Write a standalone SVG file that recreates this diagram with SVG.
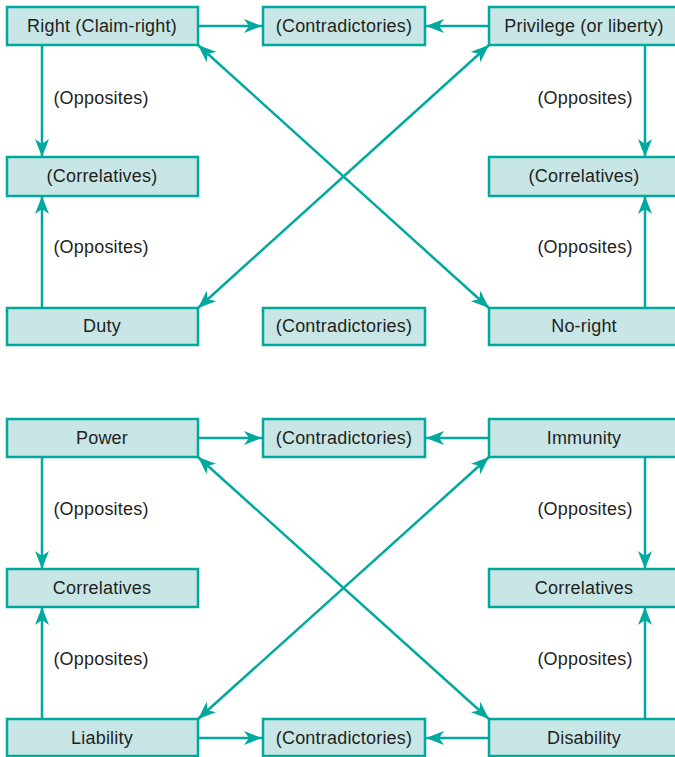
<svg xmlns="http://www.w3.org/2000/svg" width="675" height="757" viewBox="0 0 675 757">
<defs>
<style>
.box{fill:#c8e6e6;stroke:#00a99d;stroke-width:2.5}
.t{font-family:"Liberation Sans",Arial,sans-serif;font-size:18px;letter-spacing:0.2px;fill:#231f20;text-anchor:middle;dominant-baseline:central}
.c{stroke:#00a99d;stroke-width:2.5;fill:none}
.e{marker-end:url(#ah)}
.b{marker-start:url(#ah);marker-end:url(#ah)}
</style>
<marker id="ah" markerUnits="userSpaceOnUse" markerWidth="18" markerHeight="14" refX="18" refY="7" orient="auto-start-reverse" viewBox="0 0 18 14">
<path d="M0,0 L18,7 L0,14 L5,7 Z" fill="#00a99d"/>
</marker>
</defs>
<g id="connectors">
<line class="c e" x1="198" y1="26" x2="262" y2="26"/>
<line class="c e" x1="489" y1="26" x2="426" y2="26"/>
<line class="c e" x1="42" y1="45" x2="42" y2="157"/>
<line class="c e" x1="42" y1="308" x2="42" y2="196"/>
<line class="c e" x1="645" y1="45" x2="645" y2="157"/>
<line class="c e" x1="645" y1="308" x2="645" y2="196"/>
<line class="c b" x1="198" y1="45" x2="489" y2="308"/>
<line class="c b" x1="489" y1="45" x2="198" y2="308"/>
<line class="c e" x1="198" y1="438" x2="262" y2="438"/>
<line class="c e" x1="489" y1="438" x2="426" y2="438"/>
<line class="c e" x1="198" y1="738" x2="262" y2="738"/>
<line class="c e" x1="489" y1="738" x2="426" y2="738"/>
<line class="c e" x1="42" y1="457" x2="42" y2="569"/>
<line class="c e" x1="42" y1="719" x2="42" y2="607"/>
<line class="c e" x1="645" y1="457" x2="645" y2="569"/>
<line class="c e" x1="645" y1="719" x2="645" y2="607"/>
<line class="c b" x1="198" y1="457" x2="489" y2="719"/>
<line class="c b" x1="489" y1="457" x2="198" y2="719"/>
</g>
<g id="labels">
<text class="t" x="101" y="98">(Opposites)</text>
<text class="t" x="101" y="247">(Opposites)</text>
<text class="t" x="585" y="98">(Opposites)</text>
<text class="t" x="585" y="247">(Opposites)</text>
<text class="t" x="101" y="509">(Opposites)</text>
<text class="t" x="101" y="659">(Opposites)</text>
<text class="t" x="585" y="509">(Opposites)</text>
<text class="t" x="585" y="659">(Opposites)</text>
</g>
<g id="right"><rect class="box" x="7" y="7" width="191" height="38"/><text class="t" x="102" y="26">Right (Claim-right)</text></g>
<g id="contra1"><rect class="box" x="263" y="7" width="162" height="38"/><text class="t" x="344" y="26">(Contradictories)</text></g>
<g id="privilege"><rect class="box" x="489" y="7" width="191" height="38"/><text class="t" x="584" y="26">Privilege (or liberty)</text></g>
<g id="corr1"><rect class="box" x="7" y="157" width="191" height="39"/><text class="t" x="102" y="176">(Correlatives)</text></g>
<g id="corr2"><rect class="box" x="489" y="157" width="191" height="39"/><text class="t" x="584" y="176">(Correlatives)</text></g>
<g id="duty"><rect class="box" x="7" y="308" width="191" height="37"/><text class="t" x="102" y="326">Duty</text></g>
<g id="contra2"><rect class="box" x="263" y="308" width="162" height="37"/><text class="t" x="344" y="326">(Contradictories)</text></g>
<g id="noright"><rect class="box" x="489" y="308" width="191" height="37"/><text class="t" x="584" y="326">No-right</text></g>
<g id="power"><rect class="box" x="7" y="419" width="191" height="38"/><text class="t" x="102" y="438">Power</text></g>
<g id="contra3"><rect class="box" x="263" y="419" width="162" height="38"/><text class="t" x="344" y="438">(Contradictories)</text></g>
<g id="immunity"><rect class="box" x="489" y="419" width="191" height="38"/><text class="t" x="584" y="438">Immunity</text></g>
<g id="corr3"><rect class="box" x="7" y="569" width="191" height="38"/><text class="t" x="102" y="588">Correlatives</text></g>
<g id="corr4"><rect class="box" x="489" y="569" width="191" height="38"/><text class="t" x="584" y="588">Correlatives</text></g>
<g id="liability"><rect class="box" x="7" y="719" width="191" height="37"/><text class="t" x="102" y="738">Liability</text></g>
<g id="contra4"><rect class="box" x="263" y="719" width="162" height="37"/><text class="t" x="344" y="738">(Contradictories)</text></g>
<g id="disability"><rect class="box" x="489" y="719" width="191" height="37"/><text class="t" x="584" y="738">Disability</text></g>
</svg>
